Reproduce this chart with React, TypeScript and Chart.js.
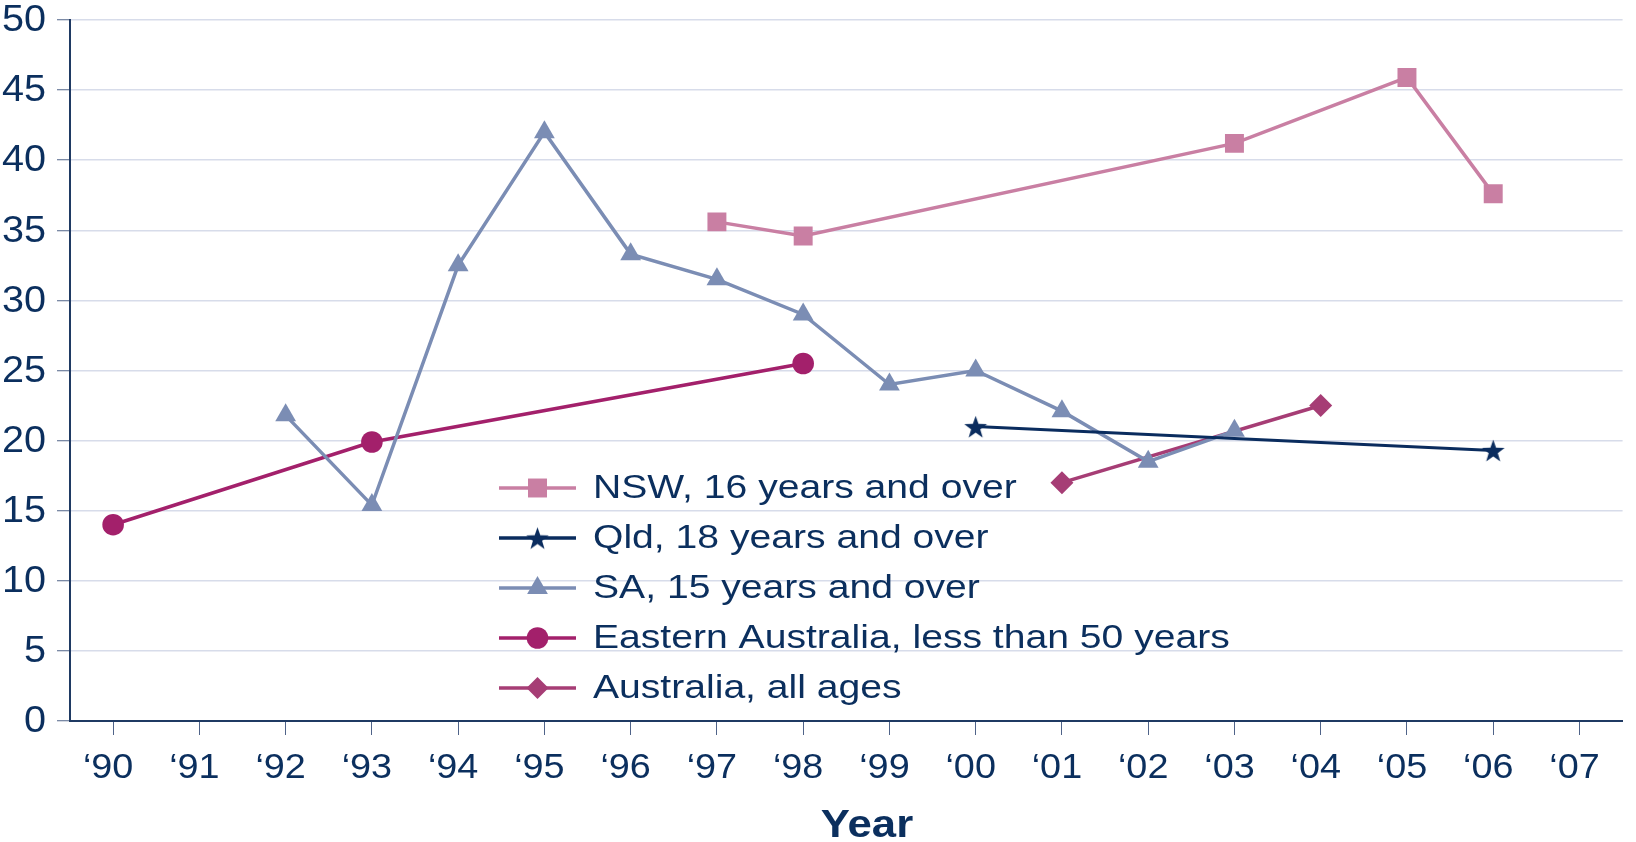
import React, { useEffect, useRef } from 'react';
import { Chart, registerables } from 'chart.js';

Chart.register(...registerables);

// ---- Data ----
const years = ['‘90', '‘91', '‘92', '‘93', '‘94', '‘95', '‘96', '‘97', '‘98', '‘99', '‘00', '‘01', '‘02', '‘03', '‘04', '‘05', '‘06', '‘07'];

const nswValues = [null, null, null, null, null, null, null, 35.6, 34.6, null, null, null, null, 41.2, null, 45.9, 37.6, null];
const qldValues = [null, null, null, null, null, null, null, null, null, null, 21.0, null, null, null, null, null, 19.3, null];
const saValues = [null, null, 21.8, 15.4, 32.5, 42.0, 33.3, 31.5, 29.0, 24.0, 25.0, 22.1, 18.5, 20.7, null, null, null, null];
const easternValues = [14.0, null, null, 19.9, null, null, null, null, 25.5, null, null, null, null, null, null, null, null, null];
const australiaValues = [null, null, null, null, null, null, null, null, null, null, null, 17.0, null, null, 22.5, null, null, null];

const seriesLabels = [
  'NSW, 16 years and over',
  'Qld, 18 years and over',
  'SA, 15 years and over',
  'Eastern Australia, less than 50 years',
  'Australia, all ages',
];

const yTicksMin = 0;
const yTicksMax = 50;
const yTickStep = 5;
const xAxisTitle = 'Year';

// ---- Styles ----
const FONT = '"Liberation Sans", Arial, Helvetica, sans-serif';
const TEXT = '#0b2f5e';
const AXIS = '#1f3a63';
const GRID = '#d7dcea';
const TICK = '#4f6389';

const NSW_C = '#c97fa3';
const QLD_C = '#0a2c5e';
const SA_C = '#7b8db4';
const EAST_C = '#a3206b';
const AUS_C = '#a63d75';

function makeStar(size: number, color: string): HTMLCanvasElement {
  const c = document.createElement('canvas');
  c.width = size;
  c.height = size;
  const ctx = c.getContext('2d')!;
  const cx = size / 2;
  const R = size / 2 - 0.5;
  const cy = size / 2 + R * 0.1;
  const r = R * 0.4;
  ctx.beginPath();
  for (let i = 0; i < 10; i++) {
    const ang = -Math.PI / 2 + (i * Math.PI) / 5;
    const rad = i % 2 === 0 ? R : r;
    ctx.lineTo(cx + rad * Math.cos(ang), cy + rad * Math.sin(ang));
  }
  ctx.closePath();
  ctx.fillStyle = color;
  ctx.fill();
  return c;
}

function drawMarker(ctx: CanvasRenderingContext2D, style: any, x: number, y: number, r: number, color: string) {
  ctx.fillStyle = color;
  if (style instanceof HTMLCanvasElement) {
    ctx.drawImage(style, x - style.width / 2, y - style.height / 2);
    return;
  }
  ctx.beginPath();
  if (style === 'rect') {
    const s = r * Math.SQRT1_2;
    ctx.rect(x - s, y - s, 2 * s, 2 * s);
  } else if (style === 'triangle') {
    for (let i = 0; i < 3; i++) {
      const a = (i * 2 * Math.PI) / 3;
      ctx.lineTo(x + Math.sin(a) * r, y - Math.cos(a) * r);
    }
    ctx.closePath();
  } else if (style === 'circle') {
    ctx.arc(x, y, r, 0, Math.PI * 2);
  } else if (style === 'rectRot') {
    ctx.moveTo(x, y - r);
    ctx.lineTo(x + r, y);
    ctx.lineTo(x, y + r);
    ctx.lineTo(x - r, y);
    ctx.closePath();
  }
  ctx.fill();
}

function stretchedText(ctx: CanvasRenderingContext2D, text: string, x: number, y: number, align: CanvasTextAlign, sx: number) {
  ctx.save();
  ctx.translate(x, y);
  ctx.scale(sx, 1);
  ctx.textAlign = align;
  ctx.fillText(text, 0, 0);
  ctx.restore();
}

const overlayPlugin = {
  id: 'overlayText',
  afterDraw(chart: any) {
    const ctx: CanvasRenderingContext2D = chart.ctx;
    const xs = chart.scales.x;
    const ys = chart.scales.y;
    ctx.save();
    ctx.fillStyle = TEXT;
    ctx.textBaseline = 'middle';

    // y tick labels
    ctx.font = `37px ${FONT}`;
    ys.ticks.forEach((t: any) => {
      const y = ys.getPixelForValue(t.value);
      stretchedText(ctx, String(t.value), ys.right - 24, y + 1, 'right', 1.07);
    });

    // x tick labels
    ctx.font = `35px ${FONT}`;
    const labels = chart.data.labels as string[];
    labels.forEach((lab: string, i: number) => {
      const x = xs.getPixelForTick(i);
      stretchedText(ctx, lab, x - 5, xs.top + 47, 'center', 1.08);
    });

    // legend
    chart.data.datasets.forEach((ds: any, i: number) => {
      const y = 488 + i * 50;
      ctx.strokeStyle = ds.borderColor;
      ctx.lineWidth = 3.5;
      ctx.beginPath();
      ctx.moveTo(499, y);
      ctx.lineTo(576, y);
      ctx.stroke();
      const r = ds.pointStyle === 'rect' ? 13.4 : ds.pointStyle === 'rectRot' ? 11 : ds.pointRadius;
      drawMarker(ctx, ds.pointStyle, 537.5, y, r, ds.pointBackgroundColor);
      ctx.fillStyle = TEXT;
      ctx.font = `34px ${FONT}`;
      ctx.textBaseline = 'middle';
      stretchedText(ctx, ds.label, 593, y + 1, 'left', 1.15);
    });

    // axis title
    ctx.font = `bold 39px ${FONT}`;
    ctx.textBaseline = 'alphabetic';
    ctx.fillStyle = TEXT;
    stretchedText(ctx, xAxisTitle, 867, 837, 'center', 1.12);
    ctx.restore();
  },
};

export default function App() {
  const canvasRef = useRef<HTMLCanvasElement | null>(null);

  useEffect(() => {
    if (!canvasRef.current) return;
    const star = makeStar(25, QLD_C);
    const common = { borderWidth: 3.5, spanGaps: true, pointBorderWidth: 0, pointHoverRadius: 0 };
    const chart = new Chart(canvasRef.current, {
      type: 'line',
      data: {
        labels: years,
        datasets: [
          { ...common, label: seriesLabels[0], data: nswValues, borderColor: NSW_C, pointBackgroundColor: NSW_C, pointBorderColor: NSW_C, pointStyle: 'rect', pointRadius: 13.4 },
          { ...common, borderWidth: 3, label: seriesLabels[1], data: qldValues, borderColor: QLD_C, pointBackgroundColor: QLD_C, pointBorderColor: QLD_C, pointStyle: star, pointRadius: 12 },
          { ...common, label: seriesLabels[2], data: saValues, borderColor: SA_C, pointBackgroundColor: SA_C, pointBorderColor: SA_C, pointStyle: 'triangle', pointRadius: 12 },
          { ...common, label: seriesLabels[3], data: easternValues, borderColor: EAST_C, pointBackgroundColor: EAST_C, pointBorderColor: EAST_C, pointStyle: 'circle', pointRadius: 10.8 },
          { ...common, label: seriesLabels[4], data: australiaValues, borderColor: AUS_C, pointBackgroundColor: AUS_C, pointBorderColor: AUS_C, pointStyle: 'rectRot', pointRadius: 11.5 },
        ] as any,
      },
      options: {
        animation: false,
        responsive: false,
        maintainAspectRatio: false,
        layout: { padding: { top: 20, right: 3, left: 0, bottom: 0 } },
        plugins: {
          legend: { display: false },
          tooltip: { enabled: false },
          title: { display: false },
        },
        scales: {
          x: {
            type: 'category',
            offset: true,
            ticks: { display: false, autoSkip: false, maxRotation: 0 },
            grid: { drawOnChartArea: false, drawTicks: true, tickLength: 14, tickColor: TICK, tickWidth: 1 },
            border: { color: AXIS, width: 2 },
            afterFit(scale: any) {
              scale.height = 121;
              scale.paddingLeft = 0;
              scale.paddingRight = 0;
            },
          },
          y: {
            min: yTicksMin,
            max: yTicksMax,
            ticks: { display: false, stepSize: yTickStep },
            grid: { color: GRID, lineWidth: 1.5, tickLength: 13, tickColor: TICK, tickWidth: 1 },
            border: { color: AXIS, width: 2 },
            afterFit(scale: any) {
              scale.width = 70;
              scale.paddingTop = 0;
              scale.paddingBottom = 0;
            },
          },
        },
      } as any,
      plugins: [overlayPlugin],
    });
    return () => chart.destroy();
  }, []);

  return (
    <div style={{ position: 'fixed', left: 0, top: 0, width: 1636, height: 842, background: '#ffffff' }}>
      <canvas ref={canvasRef} width={1636} height={842} style={{ display: 'block', width: 1636, height: 842 }} />
    </div>
  );
}
